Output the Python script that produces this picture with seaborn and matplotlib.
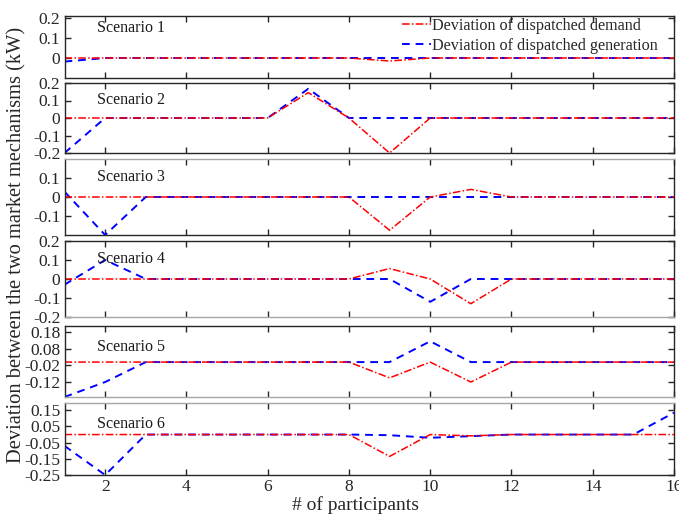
import numpy as np
import pandas as pd
import seaborn as sns
import matplotlib
matplotlib.use("Agg")
import matplotlib.pyplot as plt

sns.set_style("ticks")
plt.rcParams['font.family'] = ['Liberation Serif', 'DejaVu Serif']
plt.rcParams['mathtext.fontset'] = 'stix'

participants = list(range(1, 17))
scenario_names = ["Scenario 1", "Scenario 2", "Scenario 3", "Scenario 4", "Scenario 5", "Scenario 6"]

demand_s1 = [0, 0, 0, 0, 0, 0, 0, 0, -0.015, 0, 0, 0, 0, 0, 0, 0]
gen_s1 = [-0.018, 0, 0, 0, 0, 0, 0, 0, 0, 0, 0, 0, 0, 0, 0, 0]
demand_s2 = [0, 0, 0, 0, 0, 0, 0.145, 0, -0.2, 0, 0, 0, 0, 0, 0, 0]
gen_s2 = [-0.2, 0, 0, 0, 0, 0, 0.167, 0, 0, 0, 0, 0, 0, 0, 0, 0]
demand_s3 = [0, 0, 0, 0, 0, 0, 0, 0, -0.175, 0, 0.04, 0, 0, 0, 0, 0]
gen_s3 = [0.028, -0.2, 0, 0, 0, 0, 0, 0, 0, 0, 0, 0, 0, 0, 0, 0]
demand_s4 = [0, 0, 0, 0, 0, 0, 0, 0, 0.055, 0, -0.13, 0, 0, 0, 0, 0]
gen_s4 = [-0.03, 0.1, 0, 0, 0, 0, 0, 0, 0, -0.12, 0, 0, 0, 0, 0, 0]
demand_s5 = [0, 0, 0, 0, 0, 0, 0, 0, -0.095, 0, -0.12, 0, 0, 0, 0, 0]
gen_s5 = [-0.21, -0.12, 0, 0, 0, 0, 0, 0, 0, 0.125, 0, 0, 0, 0, 0, 0]
demand_s6 = [0, 0, 0, 0, 0, 0, 0, 0, -0.135, 0, -0.008, 0, 0, 0, 0, 0]
gen_s6 = [-0.07, -0.25, 0, 0, 0, 0, 0, 0, -0.004, -0.02, -0.01, 0, 0, 0, 0, 0.135]

demand_all = [demand_s1, demand_s2, demand_s3, demand_s4, demand_s5, demand_s6]
gen_all = [gen_s1, gen_s2, gen_s3, gen_s4, gen_s5, gen_s6]

y_ticks = [
    [0, 0.1, 0.2],
    [-0.2, -0.1, 0, 0.1, 0.2],
    [-0.1, 0, 0.1],
    [-0.2, -0.1, 0, 0.1, 0.2],
    [-0.12, -0.02, 0.08, 0.18],
    [-0.25, -0.15, -0.05, 0.05, 0.15],
]
y_ticklabels = [
    ["0", "0.1", "0.2"],
    ["-0.2", "-0.1", "0", "0.1", "0.2"],
    ["-0.1", "0", "0.1"],
    ["-0.2", "-0.1", "0", "0.1", "0.2"],
    ["-0.12", "-0.02", "0.08", "0.18"],
    ["-0.25", "-0.15", "-0.05", "0.05", "0.15"],
]
x_ticks = [2, 4, 6, 8, 10, 12, 14, 16]

ylims = [(-0.1, 0.21), (-0.2, 0.2), (-0.2, 0.2), (-0.2, 0.2), (-0.21, 0.217), (-0.25, 0.195)]
# panel pixel extents (top, bottom)
panels_px = [(16, 78), (83, 153), (159, 235), (241, 317), (326, 397), (403, 475)]
label_yfrac = [0.80, 0.76, 0.76, 0.76, 0.70, 0.71]
gray_top = [False, False, True, False, False, True]
gray_bottom = [False, False, False, True, True, False]

W, H = 679, 515
fig = plt.figure(figsize=(W / 100, H / 100), dpi=100)
left_px, right_px = 64.5, 674
axes = []
dark = '#262626'
gray = '#a6a6a6'
for i in range(6):
    top, bot = panels_px[i]
    ax = fig.add_axes([left_px / W, 1 - bot / H, (right_px - left_px) / W, (bot - top) / H])
    axes.append(ax)
    df = pd.DataFrame({
        "participants": participants * 2,
        "value": demand_all[i] + gen_all[i],
        "series": ["Deviation of dispatched demand"] * 16 + ["Deviation of dispatched generation"] * 16,
    })
    sns.lineplot(data=df[df.series == "Deviation of dispatched generation"], x="participants", y="value",
                 ax=ax, color='#0000ff', lw=1.4, linestyle=(0, (4, 3)), label="Deviation of dispatched generation",
                 legend=False)
    sns.lineplot(data=df[df.series == "Deviation of dispatched demand"], x="participants", y="value",
                 ax=ax, color='#ff0000', lw=1.1, linestyle=(0, (5, 1.5, 1, 1.5)), label="Deviation of dispatched demand",
                 legend=False)
    ax.set_xlim(1, 16)
    ax.set_ylim(*ylims[i])
    ax.set_yticks(y_ticks[i])
    ax.set_yticklabels(y_ticklabels[i])
    ax.set_xticks(x_ticks)
    ax.tick_params(direction='in', length=4, width=1, top=True, right=True, colors=dark,
                   labelsize=12.5, labelcolor='#262626', pad=3)
    for s in ax.spines.values():
        s.set_color(dark)
        s.set_linewidth(1.0)
    if gray_top[i]:
        ax.spines['top'].set_color(gray)
    if gray_bottom[i]:
        ax.spines['bottom'].set_color(gray)
    ax.set_xlabel("")
    ax.set_ylabel("")
    if i < 5:
        ax.set_xticklabels([])
    ax.text(0.053, label_yfrac[i], scenario_names[i], transform=ax.transAxes, fontsize=11.5,
            va='center', ha='left', color='#1a1a1a')

h, l = axes[0].get_legend_handles_labels()
order = [1, 0]
axes[0].legend([h[k] for k in order], [l[k] for k in order], loc='upper right', frameon=False,
               bbox_to_anchor=(0.99, 1.13), fontsize=11.6, handlelength=1.8, handletextpad=0.1,
               borderpad=0.1, labelspacing=0.28)

axes[5].set_xlabel("# of participants", fontsize=14)
axes[5].xaxis.set_label_coords(0.478, -0.29)
fig.text(0.025, 0.524, "Deviation between the two market mechanisms (kW)", rotation=90,
         fontsize=14.8, va='center', ha='center')

fig.savefig("out.png", dpi=100)
